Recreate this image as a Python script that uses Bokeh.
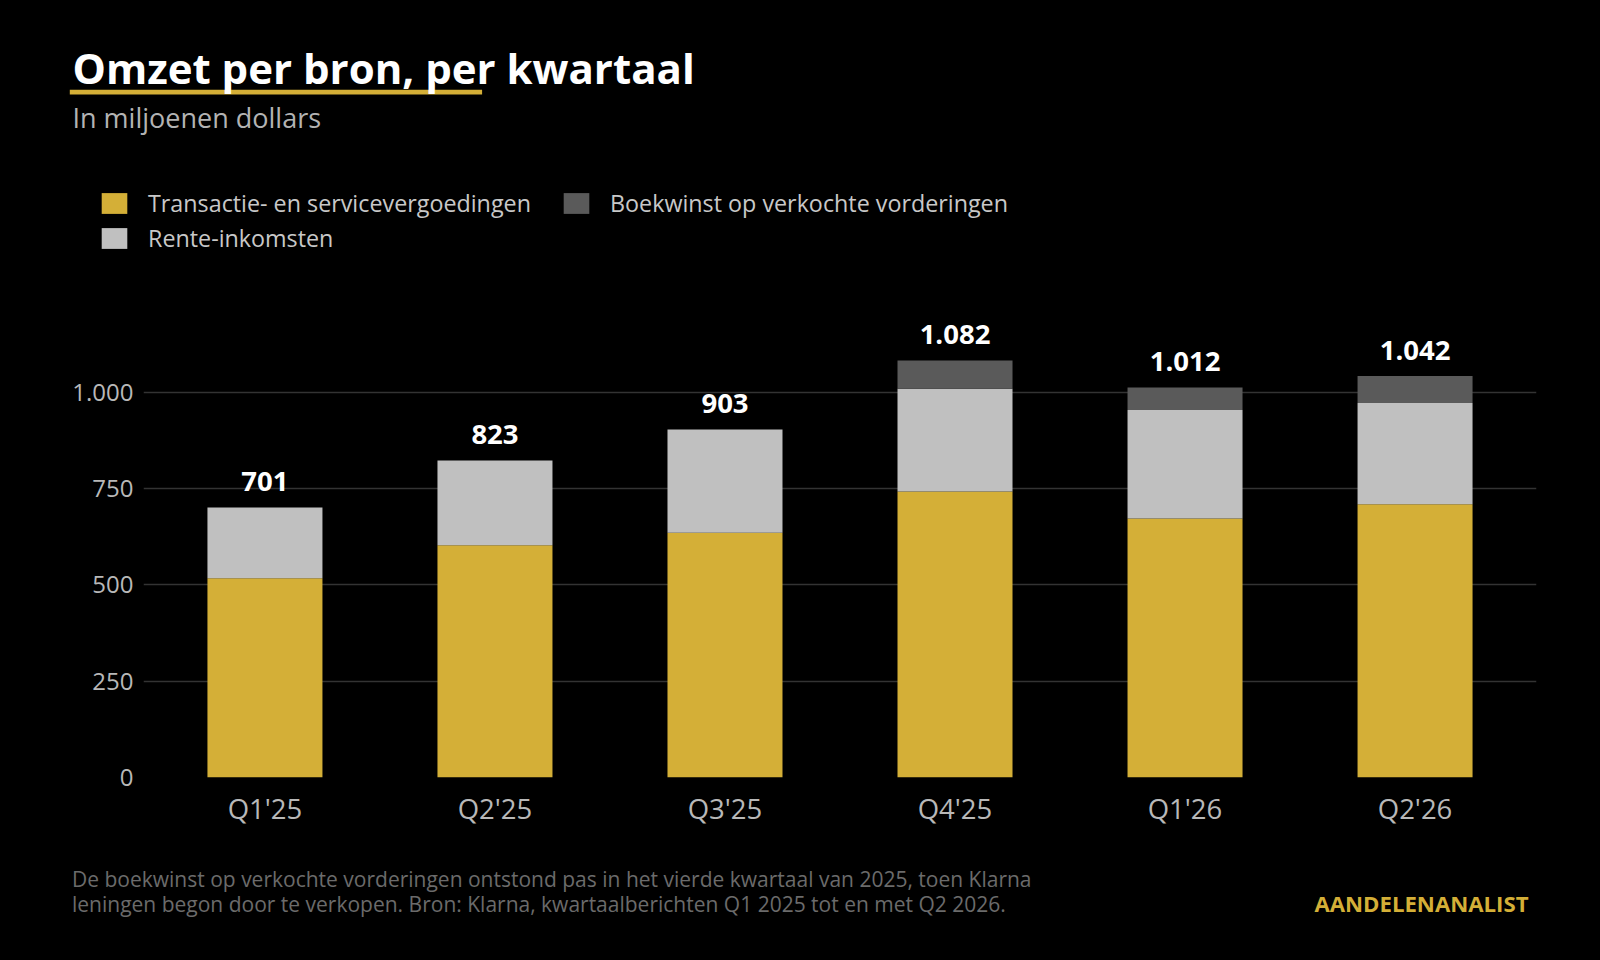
from bokeh.plotting import figure
from bokeh.models import (ColumnDataSource, FactorRange, Range1d, FixedTicker, Label,
                          Legend, LegendItem, BoxAnnotation)
from bokeh.layouts import column
from bokeh.core.properties import value
from bokeh.embed import file_html
from bokeh.resources import INLINE

# ---- data ----
quarters = ["Q1'25", "Q2'25", "Q3'25", "Q4'25", "Q1'26", "Q2'26"]
transactie = [517, 603, 635, 742, 672, 709]
rente = [184, 220, 268, 267, 282, 263]
boekwinst = [0, 0, 0, 73, 58, 70]
series_names = ["Transactie- en servicevergoedingen", "Rente-inkomsten",
                "Boekwinst op verkochte vorderingen"]
y_ticks = [0, 250, 500, 750, 1000]

title_text = "Omzet per bron, per kwartaal"
subtitle_text = "In miljoenen dollars"
footer_lines = ["De boekwinst op verkochte vorderingen ontstond pas in het vierde kwartaal van 2025, toen Klarna",
                "leningen begon door te verkopen. Bron: Klarna, kwartaalberichten Q1 2025 tot en met Q2 2026."]
brand = "AANDELENANALIST"

GOLD = "#D4AF37"
LIGHT = "#C0C0C0"
DARK = "#5A5A5A"
FONT = "Open Sans"
BG = "#000000"


def nl(v):
    return f"{v:,}".replace(",", ".")


totals = [a + b + c for a, b, c in zip(transactie, rente, boekwinst)]
source = ColumnDataSource(dict(q=quarters, t=transactie, r=rente, b=boekwinst,
                               tot=totals, lbl=[nl(v) for v in totals]))

W = 1600
HEAD_H = 285          # page y 0..285
MAIN_H = 565          # page y 285..850
FOOT_H = 960 - HEAD_H - MAIN_H


def style(f):
    f.min_border = 0
    f.background_fill_color = BG
    f.border_fill_color = BG
    f.outline_line_color = None
    f.frame_align = False
    return f


def blank(h, x_range):
    f = figure(width=W, height=h, output_backend="svg", toolbar_location=None,
               x_range=x_range, y_range=Range1d(0, h),
               x_axis_type=None, y_axis_type=None)
    style(f)
    f.min_border_left = f.min_border_right = f.min_border_top = f.min_border_bottom = 0
    f.xgrid.visible = False
    f.ygrid.visible = False
    return f


# ---- header (x in category units spread over the full width) ----
head = blank(HEAD_H, FactorRange(*quarters, range_padding=0))
HX = len(quarters) / W


def text_label(fig, top, xs, x, baseline, text, size, color, bold=False, align="left"):
    # centre of the text sits ~0.37em above its baseline
    fig.add_layout(Label(x=x * xs, y=top - (baseline - 0.37 * size), text=text,
                         text_font=FONT, text_font_size=f"{size}px",
                         text_font_style="bold" if bold else "normal",
                         text_color=color, text_align=align, text_baseline="middle"))


head.add_layout(BoxAnnotation(left=69.3 * HX, right=481.6 * HX, top=HEAD_H - 89.3,
                              bottom=HEAD_H - 94, fill_color=GOLD, fill_alpha=1,
                              line_color=None))
text_label(head, HEAD_H, HX, 72, 83, title_text, 42, "#FFFFFF", bold=True)
text_label(head, HEAD_H, HX, 72, 127.3, subtitle_text, 27, "#B3B3B3")

# hidden proxies that carry the series styling for the legend
proxies = head.vbar_stack(["t", "r", "b"], x="q", width=0.5, source=source,
                          color=[GOLD, LIGHT, DARK], line_color=None)
for r in proxies:
    r.visible = False

legend = Legend(items=[LegendItem(label=series_names[0], renderers=[proxies[0]]),
                       LegendItem(label=series_names[1], renderers=[proxies[1]]),
                       LegendItem(label=series_names[2], renderers=[proxies[2]])],
                ncols=2, location=(98, HEAD_H - 254),
                glyph_width=32, glyph_height=26, label_standoff=18, spacing=3,
                label_width=409, padding=0, margin=0, border_line_color=None,
                background_fill_alpha=0, inactive_fill_alpha=0, label_text_font=FONT,
                label_text_font_size="23.3px", label_text_color="#C8C8C8")
head.add_layout(legend, "center")

# ---- main chart ----
FL, FR, FB = 143, 1536, 777 - HEAD_H
PX_PER_UNIT = 0.3853
p = figure(width=W, height=MAIN_H, output_backend="svg", toolbar_location=None,
           x_range=FactorRange(*quarters, range_padding=0.028, range_padding_units="absolute"),
           y_range=Range1d(0, FB / PX_PER_UNIT))
style(p)
p.min_border_left = FL
p.min_border_right = W - FR
p.min_border_top = 0
p.min_border_bottom = MAIN_H - FB

p.vbar_stack(["t", "r", "b"], x="q", width=0.5, source=source,
             color=[GOLD, LIGHT, DARK], line_color=None)

p.text(x="q", y="tot", text="lbl", source=source, y_offset=-26,
       text_align="center", text_baseline="middle",
       text_font=value(FONT), text_font_style="bold", text_font_size="27.5px",
       text_color="#FFFFFF")

p.xgrid.grid_line_color = None
p.ygrid.ticker = FixedTicker(ticks=y_ticks)
p.ygrid.grid_line_color = "#333333"
p.ygrid.grid_line_width = 1.5
p.yaxis.ticker = FixedTicker(ticks=y_ticks)
p.yaxis.major_label_overrides = {v: nl(v) for v in y_ticks}
for ax in (p.xaxis[0], p.yaxis[0]):
    ax.axis_line_color = None
    ax.major_tick_line_color = None
    ax.minor_tick_line_color = None
    ax.major_tick_out = 0
    ax.major_tick_in = 0
    ax.major_label_text_font = FONT
    ax.major_label_text_color = "#B8B8B8"
p.yaxis.major_label_text_font_size = "24px"
p.yaxis.major_label_standoff = 10
p.xaxis.major_label_text_font_size = "27.5px"
p.xaxis.major_label_standoff = 12

# ---- footer ----
foot = blank(FOOT_H, Range1d(0, W))
for i, line in enumerate(footer_lines):
    text_label(foot, 960, 1, 71.5, 886.7 + 24.3 * i, line, 21, "#6B6B6B")
text_label(foot, 960, 1, 1528, 911, brand, 22.2, GOLD, bold=True, align="right")

layout = column(head, p, foot, spacing=0)
html = file_html(layout, INLINE)
page_css = "<style>html, body { background: #000000 !important; margin: 0; }</style>"
i_head = html.rfind("</head>")
if i_head != -1:
    html = html[:i_head] + page_css + html[i_head:]
i_body = html.rfind("<body")
if i_body != -1:
    html = html[:i_body] + '<body style="background:#000000;margin:0;"' + html[i_body + 5:]
open("out.html", "w").write(html)
